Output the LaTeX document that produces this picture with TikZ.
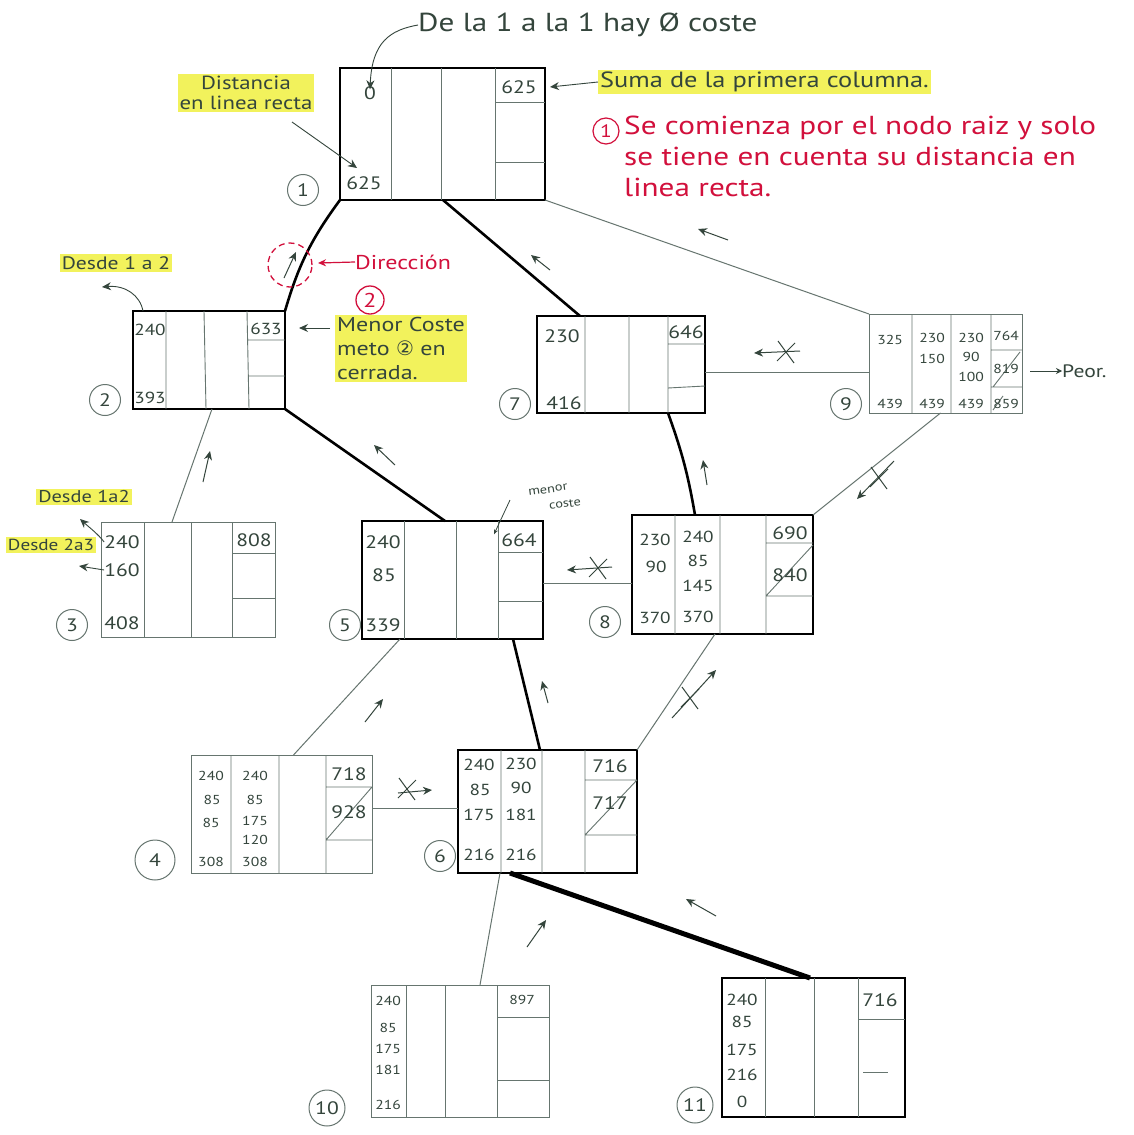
\documentclass[tikz,border=0pt]{standalone}
\usepackage{fontspec}
\setmainfont{PT Sans}[FakeStretch=1.2]
\newfontfamily\dejavu{DejaVu Sans}
\usetikzlibrary{arrows.meta,calc}
\definecolor{ink}{HTML}{34453C}
\definecolor{pen}{HTML}{66756F}
\definecolor{redink}{HTML}{D2103C}
\definecolor{hl}{HTML}{F2F25C}
\newcommand\bx[6]{\node[#6,minimum width={(#4-#2)*1pt},minimum height={(#5-#3)*1pt}] (#1) at ({(#2+#4)/2},{(#3+#5)/2}) {};}
\newcommand\N[4]{\node[num] (#1) at (#2,#3) {#4};}
\newcommand\Nm[4]{\node[mnum] (#1) at (#2,#3) {#4};}
\newcommand\Ns[4]{\node[snum] (#1) at (#2,#3) {#4};}
\newcommand\DA[5]{\coordinate (#1a) at (#2,#3); \coordinate (#1b) at (#4,#5); \draw[darr] (#1a) -- (#1b);}
\newcommand\XM[2]{\draw[ink,line width=1pt] ({#1-8},{#2-11}) -- ({#1+8},{#2+11}); \draw[ink,line width=1pt] ({#1-9},{#2+9}) -- ({#1+9},{#2-9});}
\begin{document}
\begin{tikzpicture}[x=1pt,y=-1pt,
  thickbox/.style={draw=black,line width=2.6pt,inner sep=0pt,outer sep=0pt},
  thinbox/.style={draw=pen,line width=1pt,inner sep=0pt,outer sep=0pt},
  grid/.style={draw=pen,line width=0.9pt},
  solpath/.style={draw=black,line width=2.6pt},
  plain/.style={draw=pen,line width=1pt},
  num/.style={inner sep=0pt,font=\fontsize{18}{20}\selectfont,text=ink},
  mnum/.style={inner sep=0pt,font=\fontsize{16}{18}\selectfont,text=ink},
  snum/.style={inner sep=0pt,font=\fontsize{13}{15}\selectfont,text=ink},
  lbl/.style={draw=pen,circle,line width=1pt,minimum size=31pt,inner sep=0pt,font=\fontsize{18}{20}\selectfont,text=ink},
  darr/.style={draw=ink,line width=1pt,-{Stealth[length=9pt,width=8pt]}},
  hlt/.style={fill=hl,inner sep=2pt,text=ink},
  redtxt/.style={text=redink,inner sep=0pt,font=\fontsize{26}{31}\selectfont}]
\useasboundingbox[fill=white] (0,0) rectangle (1133,1135);

% ---------- Node 1
\bx{B1}{340}{68}{545}{200}{thickbox}
\draw[grid] (391,68)--(391,200) (441,68)--(441,200) (495,68)--(495,200) (495,102)--(545,102) (495,162)--(545,162);
\N{t1a}{370}{93}{0}
\N{t1b}{364}{183}{625}
\N{t1c}{519}{87}{625}
\node[lbl] (c1) at (303,190) {1};

% ---------- Node 2
\bx{B2}{133}{311}{285}{409}{thickbox}
\draw[grid] (166,311)--(166,409) (204,311)--(206,409) (247,311)--(249,409) (247,340)--(285,340) (249,376)--(285,376);
\Nm{t2a}{150}{330}{240}
\Nm{t2b}{150}{398}{393}
\Nm{t2c}{266}{329}{633}
\node[lbl] (c2) at (105,400) {2};

% ---------- Node 7
\bx{B7}{537}{316}{705}{413}{thickbox}
\draw[grid] (585,316)--(585,413) (629,316)--(629,413) (668,316)--(668,413) (668,344)--(705,344) (668,388)--(705,386);
\N{t7a}{562}{336}{230}
\N{t7b}{564}{403}{416}
\N{t7c}{686}{332}{646}
\node[lbl] (c7) at (515,404) {7};

% ---------- Node 9
\bx{B9}{869}{314}{1022}{413}{thinbox}
\draw[grid] (912,314)--(912,413) (951,314)--(951,413) (991,314)--(991,413) (991,350)--(1022,350) (991,387)--(1022,387) (993,387)--(1020,352) (993,410)--(1003,396);
\Ns{t9a}{890}{340}{325}
\Ns{t9b}{890}{404}{439}
\Ns{t9c}{932}{338}{230}
\Ns{t9d}{932}{359}{150}
\Ns{t9e}{932}{404}{439}
\Ns{t9f}{971}{338}{230}
\Ns{t9g}{971}{357}{90}
\Ns{t9h}{971}{377}{100}
\Ns{t9i}{971}{404}{439}
\Ns{t9j}{1006}{336}{764}
\Ns{t9k}{1006}{369}{819}
\Ns{t9l}{1006}{404}{859}
\node[lbl] (c9) at (846,404) {9};

% ---------- Node 8
\bx{B8}{632}{515}{813}{634}{thickbox}
\draw[grid] (675,515)--(675,634) (720,515)--(720,634) (766,515)--(766,634) (766,543)--(813,543) (766,596)--(813,596) (766,596)--(813,545);
\Nm{t8a}{655}{540}{230}
\Nm{t8b}{656}{567}{90}
\Nm{t8c}{655}{618}{370}
\Nm{t8d}{698}{537}{240}
\Nm{t8e}{698}{561}{85}
\Nm{t8f}{698}{586}{145}
\Nm{t8g}{698}{617}{370}
\N{t8h}{790}{533}{690}
\N{t8i}{790}{575}{840}
\node[lbl] (c8) at (605,622) {8};

% ---------- Node 5
\bx{B5}{362}{521}{543}{639}{thickbox}
\draw[grid] (404,521)--(404,639) (456,521)--(456,639) (498,521)--(498,639) (498,552)--(543,552) (498,601)--(543,601);
\N{t5a}{383}{542}{240}
\N{t5b}{384}{575}{85}
\N{t5c}{383}{625}{339}
\N{t5d}{519}{540}{664}
\node[lbl] (c5) at (345,625) {5};

% ---------- Node 3
\bx{B3}{101}{522}{275}{637}{thinbox}
\draw[grid] (144,522)--(144,637) (191,522)--(191,637) (232,522)--(232,637) (232,553)--(275,553) (232,598)--(275,598);
\N{t3a}{122}{542}{240}
\N{t3b}{122}{570}{160}
\N{t3c}{122}{623}{408}
\N{t3d}{254}{540}{808}
\node[lbl] (c3) at (72,625) {3};

% ---------- Node 4
\bx{B4}{191}{755}{372}{873}{thinbox}
\draw[grid] (231,755)--(231,873) (279,755)--(279,873) (326,755)--(326,873) (326,787)--(372,787) (326,840)--(372,840) (326,840)--(372,787);
\Ns{t4a}{211}{776}{240}
\Ns{t4b}{212}{800}{85}
\Ns{t4c}{211}{823}{85}
\Ns{t4d}{211}{862}{308}
\Ns{t4e}{255}{776}{240}
\Ns{t4f}{255}{800}{85}
\Ns{t4g}{255}{821}{175}
\Ns{t4h}{255}{840}{120}
\Ns{t4i}{255}{862}{308}
\N{t4j}{349}{774}{718}
\N{t4k}{349}{812}{928}
\node[lbl,minimum size=40pt] (c4) at (155,860) {4};

% ---------- Node 6
\bx{B6}{458}{750}{637}{873}{thickbox}
\draw[grid] (501,750)--(501,873) (542,750)--(542,873) (585,750)--(585,873) (585,780)--(637,780) (585,835)--(637,835) (585,835)--(637,780);
\Nm{t6a}{479}{765}{240}
\Nm{t6b}{480}{790}{85}
\Nm{t6c}{479}{815}{175}
\Nm{t6d}{479}{855}{216}
\Nm{t6e}{521}{764}{230}
\Nm{t6f}{521}{788}{90}
\Nm{t6g}{521}{815}{181}
\Nm{t6h}{521}{855}{216}
\N{t6i}{610}{766}{716}
\N{t6j}{610}{803}{717}
\node[lbl] (c6) at (440,856) {6};

% ---------- Node 10
\bx{B10}{371}{985}{549}{1117}{thinbox}
\draw[grid] (406,985)--(406,1117) (445,985)--(445,1117) (497,985)--(497,1117) (497,1017)--(549,1017) (497,1080)--(549,1080);
\Ns{t10a}{388}{1001}{240}
\Ns{t10b}{388}{1028}{85}
\Ns{t10c}{388}{1049}{175}
\Ns{t10d}{388}{1070}{181}
\Ns{t10e}{388}{1105}{216}
\Ns{t10f}{522}{1000}{897}
\node[lbl,minimum size=36pt] (c10) at (327,1108) {10};

% ---------- Node 11
\bx{B11}{722}{978}{905}{1117}{thickbox}
\draw[grid] (765,978)--(765,1117) (814,978)--(814,1117) (858,978)--(858,1117) (858,1019)--(905,1019) (863,1072)--(888,1072);
\Nm{t11a}{742}{1000}{240}
\Nm{t11b}{742}{1022}{85}
\Nm{t11c}{742}{1050}{175}
\Nm{t11d}{742}{1075}{216}
\Nm{t11e}{742}{1102}{0}
\N{t11f}{880}{1000}{716}
\node[lbl,minimum size=36pt] (c11) at (695,1105) {11};

% ---------- solution path (thick)
\draw[solpath] (B1.south west) to[bend right=10] (B2.north east);
\draw[solpath] ([xshift=103pt]B1.south west) -- ([xshift=43pt]B7.north west);
\draw[solpath] (B2.south east) -- ([xshift=83pt]B5.north west);
\draw[solpath] ([xshift=131pt]B7.south west) to[bend left=5] ([xshift=63pt]B8.north west);
\draw[solpath] ([xshift=151pt]B5.south west) -- ([xshift=82pt]B6.north west);
\draw[solpath,line width=5pt] ([xshift=52pt]B6.south west) -- ([xshift=88pt]B11.north west);

% ---------- other connectors (thin)
\draw[plain] (B1.south east) -- (B9.north west);
\draw[plain] ([yshift=-8pt]B7.east) -- ([yshift=-8pt]B7.east -| B9.west);
\draw[plain] ([xshift=-5pt]B9.south) -- (B8.north east);
\draw[plain] ([xshift=-16pt]B3.north) -- ([xshift=3pt]B2.south);
\draw[plain] ([yshift=-3pt]B5.east) -- ([yshift=-3pt]B5.east -| B8.west);
\draw[plain] ([xshift=12pt]B4.north) -- ([xshift=38pt]B5.south west);
\draw[plain] (B6.north east) -- ([xshift=83pt]B8.south west);
\draw[plain] ([yshift=6pt]B4.east) -- ([yshift=6pt]B4.east -| B6.west);
\draw[plain] ([xshift=20pt]B10.north) -- ([xshift=42pt]B6.south west);

% ---------- direction arrows
\DA{d1}{284}{278}{296}{252}
\DA{d2}{550}{270}{531}{255}
\DA{d3}{728}{240}{698}{229}
\DA{d4}{395}{465}{374}{445}
\DA{d5}{707}{485}{703}{460}
\DA{d6}{203}{482}{210}{451}
\DA{d7}{548}{703}{542}{681}
\DA{d8}{365}{722}{383}{699}
\DA{d9}{527}{947}{546}{920}
\DA{d10}{716}{916}{686}{899}
% crossed arrows (discarded)
\DA{x1}{800}{351}{754}{353}\XM{786}{352}
\DA{x2}{894}{461}{857}{499}\XM{879}{478}
\DA{x3}{612}{567}{567}{570}\XM{598}{568}
\DA{x4}{672}{718}{716}{670}\XM{690}{698}
\DA{x5}{398}{793}{432}{790}\XM{407}{789}

% ---------- annotations
\node[anchor=west,inner sep=0pt,font=\fontsize{26}{30}\selectfont,text=ink] (ann1) at (418,25) {De la 1 a la 1 hay Ø coste};
\draw[darr,line width=0.9pt] (ann1.west) .. controls (390,30) and (372,42) .. ([yshift=-3pt]t1a.north);

\node[hlt,align=center,font=\fontsize{19}{20}\selectfont] (ann2) at (246,93) {Distancia\\en linea recta};
\coordinate (a2e) at (357,168);
\draw[darr,line width=0.9pt] (292,122) -- (a2e);

\node[hlt,anchor=west,font=\fontsize{22}{24}\selectfont] (ann3) at (598,82) {Suma de la primera columna.};
\draw[darr,line width=0.9pt] (ann3.west) -- ([xshift=5pt]B1.east |- t1c.east);

\node[redtxt,anchor=north west,align=left] (ann4) at (624,116) {Se comienza por el nodo raiz y solo\\se tiene en cuenta su distancia en\\linea recta.};
\node[draw=redink,circle,line width=1.2pt,minimum size=26pt,inner sep=0pt,text=redink,font=\fontsize{18}{20}\selectfont] (r1) at (606,131) {1};

\node[hlt,font=\fontsize{18}{20}\selectfont] (ann5) at (116,263) {Desde 1 a 2};
\draw[darr,line width=0.9pt] ([xshift=10pt]B2.north west) .. controls (140,295) and (125,285) .. (102,287);

\draw[redink,line width=1.3pt,dash pattern=on 6pt off 4pt] (290,265) circle (22pt);
\node[anchor=west,inner sep=0pt,text=redink,font=\fontsize{20}{22}\selectfont] (ann6) at (355,262) {Dirección};
\draw[draw=redink,line width=1.2pt,-{Stealth[length=8pt,width=7pt]}] (ann6.west) -- (318,263);
\node[draw=redink,circle,line width=1.3pt,minimum size=28pt,inner sep=0pt,text=redink,font=\fontsize{20}{22}\selectfont] (r2) at (370,300) {2};

\node[hlt,anchor=north west,align=left,font=\fontsize{20}{24}\selectfont] (ann7) at (335,315) {Menor Coste\\meto {\dejavu ②} en\\cerrada.};
\draw[darr] (330,328) -- (299,328);

\node[inner sep=0pt,text=ink,font=\fontsize{12}{14}\selectfont,rotate=8] (ann8) at (548,490) {menor};
\node[inner sep=0pt,text=ink,font=\fontsize{12}{14}\selectfont,rotate=8] (ann9) at (565,504) {coste};
\draw[ink,line width=0.8pt,-{Stealth[length=5pt,width=4pt]}] (510,500) -- ([xshift=-25pt,yshift=-1pt]t5d.north);

\node[hlt,font=\fontsize{17}{19}\selectfont] (ann10) at (84,497) {Desde 1a2};
\node[hlt,font=\fontsize{16}{18}\selectfont] (ann11) at (51,545) {Desde 2a3};
\draw[darr,line width=0.9pt] (t3a.west) .. controls (98,534) and (90,528) .. (80,519);
\draw[darr,line width=0.9pt] (t3b.west) -- (79,566);

\node[anchor=west,inner sep=0pt,text=ink,font=\fontsize{18}{20}\selectfont] (ann12) at (1062,371) {Peor.};
\draw[ink,line width=0.9pt,-{Stealth[length=6pt,width=6pt]}] (1030,371) -- (ann12.west);
\end{tikzpicture}
\end{document}
